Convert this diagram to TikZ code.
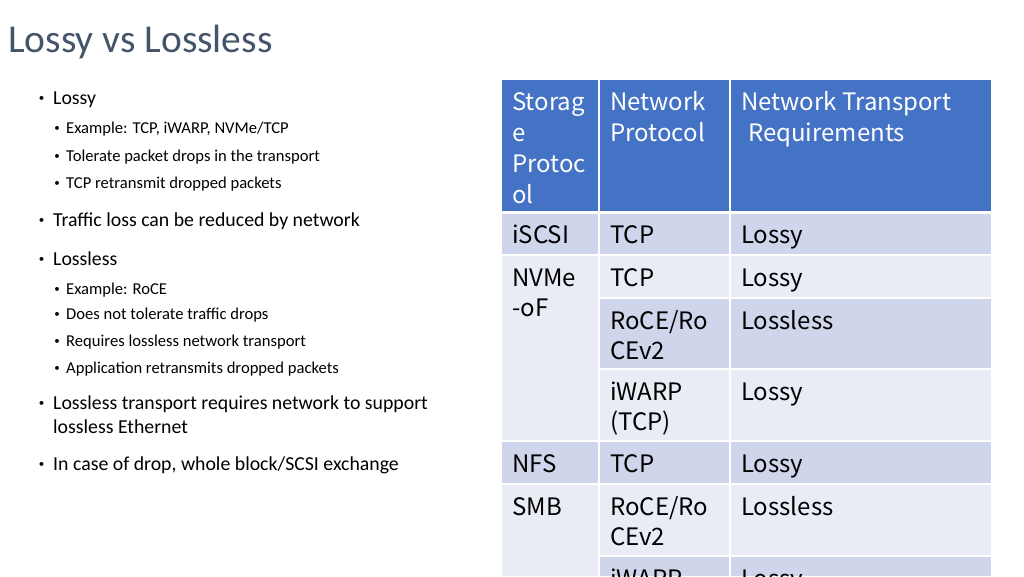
\documentclass[tikz,border=0pt]{standalone}
\usepackage{fontspec}
\setmainfont{Carlito}
\newfontfamily\cjkfont{Noto Sans CJK SC}
\usepackage{xcolor}
\definecolor{titlegray}{HTML}{44546A}
\definecolor{hdrblue}{HTML}{4472C4}
\definecolor{rowdark}{HTML}{CFD5EA}
\definecolor{rowlight}{HTML}{E9EBF5}
\tikzset{
  lone/.style={anchor=base west,inner sep=0pt,font=\fontsize{19.8}{24}\selectfont},
  ltwo/.style={anchor=base west,inner sep=0pt,font=\fontsize{16.6}{20}\selectfont},
  bul/.style={anchor=center,inner sep=0pt,font=\fontsize{11}{13}\selectfont},
  tab/.style={anchor=base west,inner sep=0pt,font=\cjkfont\fontsize{24}{31}\selectfont},
  thead/.style={tab,text=white},
  grid/.style={white,line width=1.6pt},
}
\begin{document}
\begin{tikzpicture}[x=1pt,y=-1pt]
\useasboundingbox (0,0) rectangle (1024,576);
\clip (0,0) rectangle (1024,576);

% title
\node[anchor=base west,inner sep=0pt,text=titlegray,font=\fontsize{39.5}{46}\selectfont] (title) at (8,52) {Lossy vs Lossless};

% bullet list
\node[bul] (b1) at (41.5,99) {•};   \node[lone] (t1) at (53,104) {Lossy};
\node[bul] (b2) at (57,129) {•};    \node[ltwo] (t2) at (66,133) {Example: TCP, iWARP, NVMe/TCP};
\node[bul] (b3) at (57,157) {•};    \node[ltwo] (t3) at (66,161) {Tolerate packet drops in the transport};
\node[bul] (b4) at (57,184) {•};    \node[ltwo] (t4) at (66,188) {TCP retransmit dropped packets};
\node[bul] (b5) at (41.5,221) {•};  \node[lone] (t5) at (53,226) {Traffic loss can be reduced by network};
\node[bul] (b6) at (41.5,260) {•};  \node[lone] (t6) at (53,265) {Lossless};
\node[bul] (b7) at (57,290) {•};    \node[ltwo] (t7) at (66,294) {Example: RoCE};
\node[bul] (b8) at (57,315) {•};    \node[ltwo] (t8) at (66,319) {Does not tolerate traffic drops};
\node[bul] (b9) at (57,342) {•};    \node[ltwo] (t9) at (66,346) {Requires lossless network transport};
\node[bul] (b10) at (57,369) {•};   \node[ltwo] (t10) at (66,373) {Application retransmits dropped packets};
\node[bul] (b11) at (41.5,404) {•}; \node[lone] (t11) at (53,409) {Lossless transport requires network to support};
                                    \node[lone] (t11b) at (53,433) {lossless Ethernet};
\node[bul] (b12) at (41.5,465) {•}; \node[lone] (t12) at (53,470) {In case of drop, whole block/SCSI exchange};

% table cells
\fill[hdrblue] (502,80) rectangle (991,212);
\fill[rowdark] (502,212) rectangle (991,255);
\fill[rowlight] (502,255) rectangle (599,441);
\fill[rowlight] (599,255) rectangle (991,298);
\fill[rowdark] (599,298) rectangle (991,369);
\fill[rowlight] (599,369) rectangle (991,441);
\fill[rowdark] (502,441) rectangle (991,484);
\fill[rowlight] (502,484) rectangle (599,576);
\fill[rowlight] (599,484) rectangle (991,556);
\fill[rowdark] (599,556) rectangle (991,576);

% white grid
\foreach \x in {599,730}
  \draw[grid] (\x,80) -- (\x,576);
\draw[grid,line width=3pt] (502,212) -- (991,212);
\foreach \y in {255,441,484}
  \draw[grid] (502,\y) -- (991,\y);
\foreach \y in {298,369,556}
  \draw[grid] (599,\y) -- (991,\y);

% header
\node[thead] (h1a) at (512,110) {Storag};
\node[thead] (h1b) at (512,141) {e};
\node[thead] (h1c) at (512,172) {Protoc};
\node[thead] (h1d) at (512,203) {ol};
\node[thead] (h2a) at (610,110) {Network};
\node[thead] (h2b) at (610,141) {Protocol};
\node[thead] (h3a) at (741,110) {Network Transport};
\node[thead] (h3b) at (748,141) {Requirements};

% rows
\node[tab] (iscsi) at (512,243) {iSCSI};
\node[tab] (iscsitcp) at (610,243) {TCP};
\node[tab] (iscsireq) at (741,243) {Lossy};

\node[tab] (nvmea) at (512,286) {NVMe};
\node[tab] (nvmeb) at (512,316.5) {-oF};
\node[tab] (nvmetcp) at (610,286) {TCP};
\node[tab] (nvmetcpreq) at (741,286) {Lossy};
\node[tab] (nvmerocea) at (610,329) {RoCE/Ro};
\node[tab] (nvmeroceb) at (610,359.5) {CEv2};
\node[tab] (nvmerocereq) at (741,329) {Lossless};
\node[tab] (nvmeiwa) at (610,400) {iWARP};
\node[tab] (nvmeiwb) at (610,430.5) {(TCP)};
\node[tab] (nvmeiwreq) at (741,400) {Lossy};

\node[tab] (nfs) at (512,472) {NFS};
\node[tab] (nfstcp) at (610,472) {TCP};
\node[tab] (nfsreq) at (741,472) {Lossy};

\node[tab] (smb) at (512,515) {SMB};
\node[tab] (smbrocea) at (610,515) {RoCE/Ro};
\node[tab] (smbroceb) at (610,545.5) {CEv2};
\node[tab] (smbrocereq) at (741,515) {Lossless};
\node[tab] (smbiw) at (610,587) {iWARP};
\node[tab] (smbiwreq) at (741,587) {Lossy};
\end{tikzpicture}
\end{document}
